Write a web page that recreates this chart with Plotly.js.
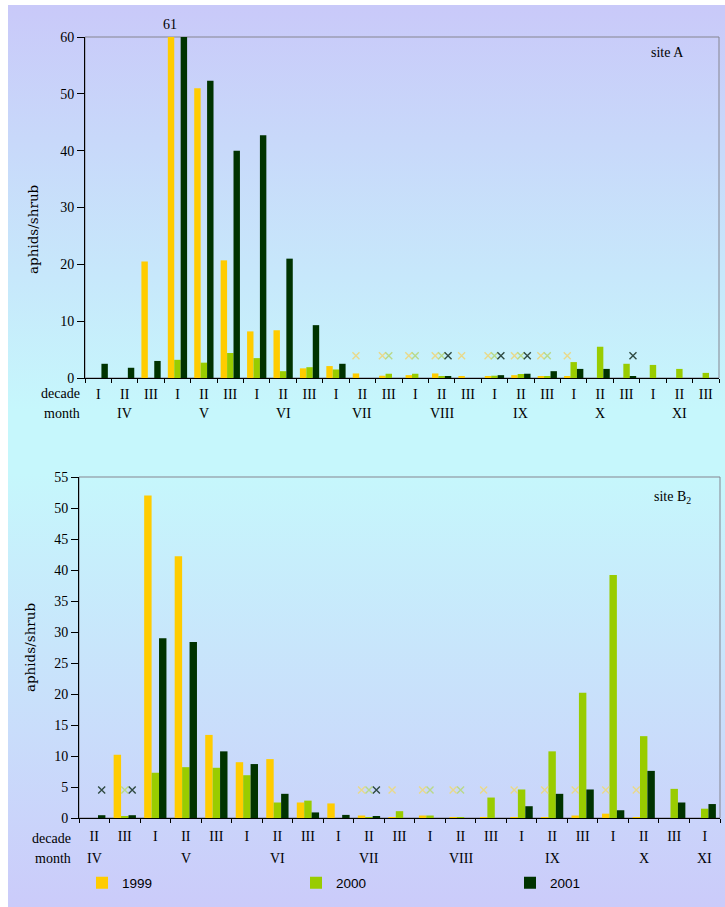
<!DOCTYPE html>
<html>
<head>
<meta charset="utf-8">
<script src="https://cdn.plot.ly/plotly-3.0.1.min.js"></script>
<style>
  html, body { margin: 0; padding: 0; background: #ffffff; }
  #bg { position: absolute; left: 8px; top: 5px; width: 717px; height: 902px;
        background: linear-gradient(to bottom, #c9c9f9 0%, #c6f7fc 45%, #c6f7fc 52%, #cbcbfa 100%); }
  #chart { position: absolute; left: 0; top: 0; width: 725px; height: 907px; }
</style>
</head>
<body>
<div id="bg"></div>
<div id="chart"></div>
<script>
// ---------- data ----------
const years = ["1999", "2000", "2001"];
const decades = ["I", "II", "III"];
const monthsA = ["IV", "V", "VI", "VII", "VIII", "IX", "X", "XI"];
const monthsB = ["IV", "V", "VI", "VII", "VIII", "IX", "X", "XI"];
const yTitle = "aphids/shrub";

// site A: IV-I ... XI-III (24 decades)
const siteA_1999 = [0, 0, 20.5, 61, 51.0, 20.7, 8.2, 8.4, 1.7, 2.1, 0.8, 0.4, 0.5, 0.8, 0.25, 0.3, 0.5, 0.2, 0.2, 0, 0, 0, 0, 0];
const siteA_2000 = [0, 0, 0, 3.2, 2.7, 4.4, 3.5, 1.2, 1.9, 1.5, 0, 0.75, 0.75, 0.35, 0, 0.4, 0.7, 0.3, 2.8, 5.5, 2.5, 2.3, 1.6, 0.9];
const siteA_2001 = [2.5, 1.8, 3.0, 60, 52.3, 40.0, 42.7, 21.0, 9.3, 2.5, 0, 0, 0, 0.3, 0, 0.5, 0.75, 1.2, 1.6, 1.6, 0.3, 0, 0, 0];
// "x" marks (level at which they are drawn; null = none)
const siteA_x1999 = [null, null, null, null, null, null, null, null, null, null, 3.9, 3.9, 3.9, 3.9, 3.9, 3.9, 3.9, 3.9, 3.9, null, null, null, null, null];
const siteA_x2000 = [null, null, null, null, null, null, null, null, null, null, null, 3.9, 3.9, 3.9, null, 3.9, 3.9, 3.9, null, null, null, null, null, null];
const siteA_x2001 = [null, null, null, null, null, null, null, null, null, null, null, null, null, 3.9, null, 3.9, 3.9, null, null, null, 3.9, null, null, null];

// site B2: IV-II ... XI-I (21 decades)
const siteB_1999 = [0, 10.2, 52.0, 42.2, 13.4, 9.0, 9.5, 2.5, 2.35, 0.4, 0.1, 0.4, 0.15, 0.15, 0.15, 0.15, 0.4, 0.7, 0.15, 0, 0];
const siteB_2000 = [0, 0.3, 7.3, 8.2, 8.1, 6.9, 2.5, 2.8, 0, 0.15, 1.1, 0.4, 0.15, 3.3, 4.6, 10.75, 20.2, 39.2, 13.2, 4.7, 1.5];
const siteB_2001 = [0.45, 0.45, 29.0, 28.4, 10.75, 8.7, 3.9, 0.9, 0.5, 0.3, 0, 0, 0, 0, 1.9, 3.9, 4.6, 1.25, 7.6, 2.5, 2.25];
const siteB_x1999 = [null, null, null, null, null, null, null, null, null, 4.5, 4.5, 4.5, 4.5, 4.5, 4.5, 4.5, 4.5, 4.5, 4.5, null, null];
const siteB_x2000 = [null, 4.5, null, null, null, null, null, null, null, 4.5, null, 4.5, 4.5, null, null, null, null, null, null, null, null];
const siteB_x2001 = [4.5, 4.5, null, null, null, null, null, null, null, 4.5, null, null, null, null, null, null, null, null, null, null, null];

// ---------- category ids ----------
function buildCats(months) {
  const ids = [], labels = [];
  months.forEach(m => decades.forEach(d => { ids.push(m + "-" + d); labels.push(d); }));
  return { ids, labels };
}
const A = buildCats(monthsA);
const Ball = buildCats(monthsB);
const startB = 1, endB = Ball.ids.length - 2; // IV-II ... XI-I
const B = { ids: Ball.ids.slice(startB, endB), labels: Ball.labels.slice(startB, endB) };
const monthAnchorA = monthsA.map(m => m + "-II");
const monthAnchorB = monthsB.map((m, i) => i === monthsB.length - 1 ? m + "-I" : m + "-II");

const barColors = ["#FFCC00", "#99CC00", "#003300"];
const xColors = ["#e9d98a", "#b9d98a", "#2f4a42"];
const serif = "'Liberation Serif', 'Times New Roman', Times, serif";
const serifWide = "'DejaVu Serif', serif";
const sans = "'Liberation Sans', Arial, sans-serif";

const traces = [];
const dataA = [siteA_1999, siteA_2000, siteA_2001];
const dataB = [siteB_1999, siteB_2000, siteB_2001];
const xA = [siteA_x1999, siteA_x2000, siteA_x2001];
const xB = [siteB_x1999, siteB_x2000, siteB_x2001];

years.forEach((yr, i) => {
  traces.push({ type: "bar", x: A.ids, y: dataA[i], name: yr, legendgroup: yr,
    marker: { color: barColors[i] }, xaxis: "x", yaxis: "y" });
});
years.forEach((yr, i) => {
  traces.push({ type: "bar", x: B.ids, y: dataB[i], name: yr, legendgroup: yr, showlegend: false,
    marker: { color: barColors[i] }, xaxis: "x2", yaxis: "y2" });
});
years.forEach((yr, i) => {
  traces.push({ type: "scatter", mode: "markers", x: A.ids, y: xA[i], name: yr + " ×", showlegend: false,
    marker: { symbol: "x-thin", size: 7, line: { width: 1.4, color: xColors[i] }, color: xColors[i] },
    xaxis: "x", yaxis: "y", cliponaxis: false });
});
years.forEach((yr, i) => {
  traces.push({ type: "scatter", mode: "markers", x: B.ids, y: xB[i], name: yr + " ×", showlegend: false,
    marker: { symbol: "x-thin", size: 7, line: { width: 1.4, color: xColors[i] }, color: xColors[i] },
    xaxis: "x2", yaxis: "y2", cliponaxis: false });
});

const W = 725, H = 907;
const px = v => v / W, py = v => 1 - v / H;

function xAxis(cats, domain, anchor, standoff) {
  return {
    type: "category", categoryorder: "array", categoryarray: cats.ids,
    tickmode: "array", tickvals: cats.ids, ticktext: cats.labels,
    tickson: "boundaries", ticks: "outside", ticklen: 4, tickcolor: "#000", tickwidth: 1,
    showline: true, linecolor: "#000", linewidth: 1, showgrid: false, zeroline: false,
    tickfont: { family: serif, size: 14, color: "#000" }, tickangle: 0,
    ticklabelstandoff: standoff, automargin: false,
    domain: domain, anchor: anchor, fixedrange: true
  };
}
function yAxis(range, dtick, domain, anchor, withTitle) {
  const ax = {
    range: range, dtick: dtick, tick0: 0, ticks: "outside", ticklen: 7, tickcolor: "#000",
    showline: true, linecolor: "#000", linewidth: 1, showgrid: false, zeroline: false,
    tickfont: { family: serif, size: 14, color: "#000" },
    automargin: true,
    domain: domain, anchor: anchor, fixedrange: true
  };
  if (withTitle) ax.title = { text: yTitle, font: { family: serifWide, size: 13.5, color: "#000" }, standoff: 15 };
  return ax;
}

const annotations = [];
// top panel's y title sits below the middle of its axis in the source
annotations.push({ text: yTitle, textangle: -90, xref: "paper", yref: "paper", x: px(33), y: py(230),
  xanchor: "center", yanchor: "middle", showarrow: false, font: { family: serifWide, size: 13.5, color: "#000" } });
function rowLabels(xRight, yDec, yMon) {
  annotations.push({ text: "decade", xref: "paper", yref: "paper", x: px(xRight), y: py(yDec),
    xanchor: "right", yanchor: "middle", showarrow: false, font: { family: serif, size: 14, color: "#000" } });
  annotations.push({ text: "month", xref: "paper", yref: "paper", x: px(xRight), y: py(yMon),
    xanchor: "right", yanchor: "middle", showarrow: false, font: { family: serif, size: 14, color: "#000" } });
}
rowLabels(82, 393, 413);
rowLabels(73, 838, 858);
monthsA.forEach((m, i) => annotations.push({ text: m, xref: "x", yref: "paper", x: monthAnchorA[i], y: py(413),
  xanchor: "center", yanchor: "middle", showarrow: false, font: { family: serif, size: 14, color: "#000" } }));
monthsB.forEach((m, i) => annotations.push({ text: m, xref: "x2", yref: "paper", x: monthAnchorB[i], y: py(858),
  xanchor: "center", yanchor: "middle", showarrow: false, font: { family: serif, size: 14, color: "#000" } }));
annotations.push({ text: String(siteA_1999[3]), xref: "x", yref: "y", x: A.ids[3], y: 60, xshift: -7, yshift: 3,
  xanchor: "center", yanchor: "bottom", showarrow: false, font: { family: serif, size: 14, color: "#000" } });
annotations.push({ text: "site A", xref: "paper", yref: "paper", x: px(667), y: py(53),
  xanchor: "center", yanchor: "middle", showarrow: false, font: { family: serif, size: 14, color: "#000" } });
annotations.push({ text: "site B<sub>2</sub>", xref: "paper", yref: "paper", x: px(672), y: py(497),
  xanchor: "center", yanchor: "middle", showarrow: false, font: { family: serif, size: 14, color: "#000" } });

const shapes = [
  { type: "rect", xref: "x domain", yref: "y domain", x0: 0, x1: 1, y0: 0, y1: 1, layer: "below",
    line: { color: "#858590", width: 1 } },
  { type: "rect", xref: "x2 domain", yref: "y2 domain", x0: 0, x1: 1, y0: 0, y1: 1, layer: "below",
    line: { color: "#858590", width: 1 } }
];

const layout = {
  width: W, height: H,
  margin: { l: 0, r: 0, t: 0, b: 0, autoexpand: false },
  paper_bgcolor: "rgba(0,0,0,0)", plot_bgcolor: "rgba(0,0,0,0)",
  barmode: "group", bargap: 0.27, bargroupgap: 0,
  scattermode: "group", scattergap: 0.27,
  xaxis: xAxis(A, [px(85), px(719)], "y", 3),
  yaxis: yAxis([0, 60], 10, [py(378), py(37)], "x", false),
  xaxis2: xAxis(B, [px(79), px(720)], "y2", 5),
  yaxis2: yAxis([0, 55], 5, [py(818), py(477)], "x2", true),
  showlegend: true,
  legend: { orientation: "h", x: px(82), y: py(883), xanchor: "left", yanchor: "middle",
    entrywidth: 169, entrywidthmode: "pixels", bgcolor: "rgba(0,0,0,0)",
    font: { family: sans, size: 13.5, color: "#000" }, itemwidth: 30 },
  annotations: annotations,
  shapes: shapes,
  hovermode: "closest"
};

Plotly.newPlot("chart", traces, layout, { displayModeBar: false });
</script>
</body>
</html>
